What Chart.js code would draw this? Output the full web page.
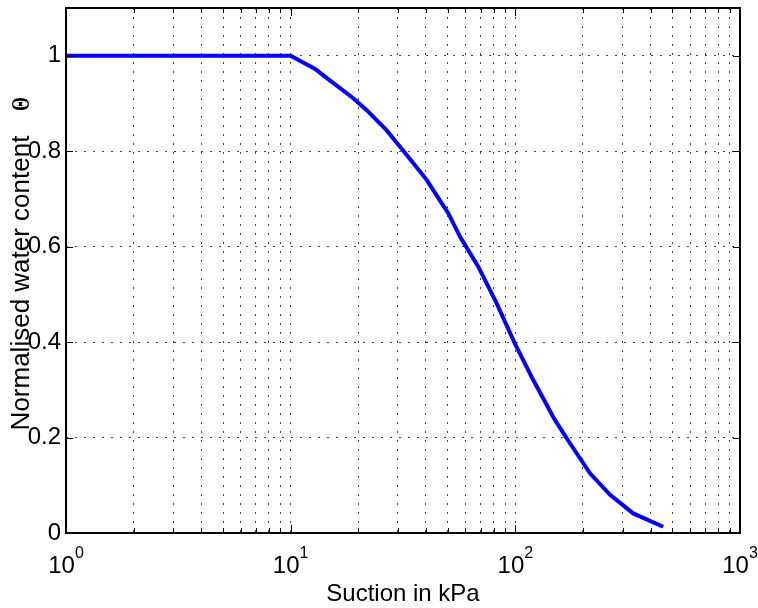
<!DOCTYPE html>
<html>
<head>
<meta charset="utf-8">
<script src="https://cdn.jsdelivr.net/npm/chart.js@4.4.1/dist/chart.umd.min.js"></script>
<style>
  body { margin: 0; background: #fff; }
  #wrap { width: 758px; height: 608px; }
</style>
</head>
<body>
<div id="wrap"><canvas id="swcc" width="758" height="608"></canvas></div>
<script>
// soil water retention curve: suction (kPa) vs normalised water content
const suction = [1, 10, 12.8, 14.5, 19.0, 21.8, 26.7, 30.1, 35.1, 40.3, 47.0, 50.3, 56.7, 68.4, 82.6, 99.6, 120, 150, 175, 215, 264, 335, 455];
const theta = [1, 1, 0.973, 0.953, 0.911, 0.886, 0.844, 0.814, 0.775, 0.740, 0.691, 0.670, 0.621, 0.558, 0.481, 0.397, 0.321, 0.237, 0.188, 0.125, 0.080, 0.041, 0.013];

const decades = [0, 1, 2, 3];
const yTicks = [0, 0.2, 0.4, 0.6, 0.8, 1];
const yTickLabels = ['0', '0.2', '0.4', '0.6', '0.8', '1'];

const FONT = '"Liberation Sans", Arial, Helvetica, sans-serif';

// 1..9 per decade, like matlab minor grid on a log axis
function logTickValues() {
  const out = [];
  for (let e = decades[0]; e < decades[decades.length - 1]; e++) {
    for (let m = 1; m <= 9; m++) out.push(m * Math.pow(10, e));
  }
  out.push(Math.pow(10, decades[decades.length - 1]));
  return out;
}

const dotted = { display: false, dash: [2, 7] };

// axes box, inward ticks and all the text
const matlabFrame = {
  id: 'matlabFrame',
  afterDraw(chart) {
    const { ctx, chartArea: a, scales: { x, y } } = chart;
    ctx.save();
    ctx.strokeStyle = '#000';
    ctx.fillStyle = '#000';

    ctx.lineWidth = 1;
    ctx.beginPath();
    x.ticks.forEach(t => {
      const px = Math.round(x.getPixelForValue(t.value)) + 0.5;
      const major = decades.some(e => Math.abs(Math.log10(t.value) - e) < 1e-9);
      const len = major ? 8 : 5;
      ctx.moveTo(px, a.bottom); ctx.lineTo(px, a.bottom - len);
      ctx.moveTo(px, a.top); ctx.lineTo(px, a.top + len);
    });
    yTicks.forEach(v => {
      const py = Math.round(y.getPixelForValue(v)) + 0.5;
      ctx.moveTo(a.left, py); ctx.lineTo(a.left + 7, py);
      ctx.moveTo(a.right, py); ctx.lineTo(a.right - 7, py);
    });
    ctx.stroke();

    ctx.lineWidth = 2;
    ctx.strokeRect(a.left, a.top, a.right - a.left, a.bottom - a.top);

    // y tick labels
    ctx.font = '24px ' + FONT;
    ctx.textAlign = 'right';
    ctx.textBaseline = 'middle';
    yTicks.forEach((v, i) => ctx.fillText(yTickLabels[i], a.left - 5, y.getPixelForValue(v)));

    // x tick labels 10^n
    ctx.textAlign = 'left';
    ctx.textBaseline = 'alphabetic';
    decades.forEach(e => {
      const px = x.getPixelForValue(Math.pow(10, e));
      ctx.font = '24px ' + FONT;
      const wBase = ctx.measureText('10').width;
      ctx.font = '16px ' + FONT;
      const wExp = ctx.measureText(String(e)).width;
      const left = px - (wBase + wExp) / 2;
      ctx.font = '24px ' + FONT;
      ctx.fillText('10', left, a.bottom + 40);
      ctx.font = '16px ' + FONT;
      ctx.fillText(String(e), left + wBase, a.bottom + 25);
    });

    // axis titles
    ctx.font = '24px ' + FONT;
    ctx.textAlign = 'center';
    ctx.fillText('Suction in kPa', (a.left + a.right) / 2, a.bottom + 68);

    ctx.save();
    ctx.translate(22, 283);
    ctx.rotate(-Math.PI / 2);
    ctx.font = '26px ' + FONT;
    ctx.textBaseline = 'middle';
    ctx.fillText('Normalised water content', 0, 0);
    ctx.restore();

    ctx.save();
    ctx.translate(22, 104);
    ctx.rotate(-Math.PI / 2);
    ctx.scale(0.72, 1);
    ctx.font = 'bold 25px "Liberation Serif", "Times New Roman", serif';
    ctx.textBaseline = 'middle';
    ctx.fillText('\u0398', 0, 1);
    ctx.restore();

    ctx.restore();
  }
};

new Chart(document.getElementById('swcc'), {
  type: 'scatter',
  data: {
    datasets: [{
      data: suction.map((s, i) => ({ x: s, y: theta[i] })),
      showLine: true,
      borderColor: '#0000ff',
      borderWidth: 4,
      pointRadius: 0,
      tension: 0,
      fill: false
    }]
  },
  options: {
    responsive: false,
    animation: false,
    layout: { padding: { left: 66, top: 8, right: 18, bottom: 75 } },
    plugins: { legend: { display: false }, tooltip: { enabled: false } },
    scales: {
      x: {
        type: 'logarithmic',
        min: 1,
        max: 1000,
        afterBuildTicks(scale) { scale.ticks = logTickValues().map(v => ({ value: v })); },
        ticks: { display: false },
        grid: { color: '#444', lineWidth: 1, drawTicks: false },
        border: dotted
      },
      y: {
        type: 'linear',
        min: 0,
        max: 1.1,
        afterBuildTicks(scale) { scale.ticks = yTicks.map(v => ({ value: v })); },
        ticks: { display: false },
        grid: { color: '#444', lineWidth: 1, drawTicks: false },
        border: dotted
      }
    }
  },
  plugins: [matlabFrame]
});
</script>
</body>
</html>
